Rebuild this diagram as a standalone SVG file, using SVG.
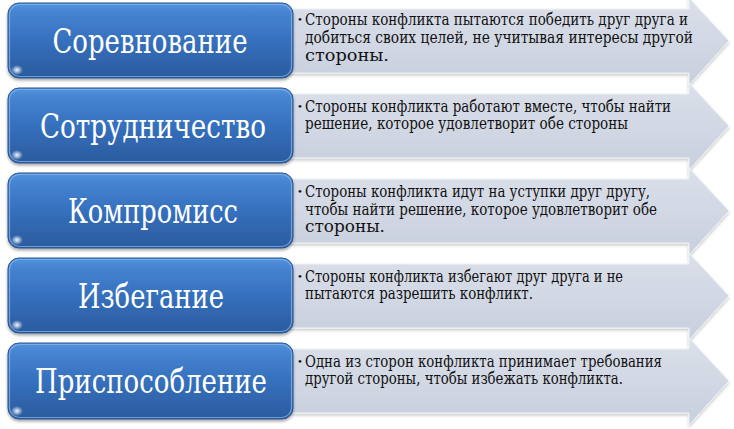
<svg xmlns="http://www.w3.org/2000/svg" width="734" height="429" viewBox="0 0 734 429">
<defs>
<linearGradient id="gBlue" x1="0" y1="0" x2="0" y2="1">
<stop offset="0" stop-color="#5494de"/>
<stop offset="0.12" stop-color="#4684d2"/>
<stop offset="0.5" stop-color="#3570bd"/>
<stop offset="1" stop-color="#2b5b9e"/>
</linearGradient>
<linearGradient id="gGrey" x1="0" y1="0" x2="0" y2="1">
<stop offset="0" stop-color="#dbe0ea"/>
<stop offset="1" stop-color="#c8cfdd"/>
</linearGradient>
<radialGradient id="gGlint" cx="0.5" cy="0.5" r="0.5">
<stop offset="0" stop-color="#ffffff" stop-opacity="0.95"/>
<stop offset="1" stop-color="#ffffff" stop-opacity="0"/>
</radialGradient>
<filter id="sh" x="-5%" y="-10%" width="110%" height="130%">
<feDropShadow dx="0" dy="2" stdDeviation="1.8" flood-color="#000" flood-opacity="0.35"/>
</filter>
<filter id="shA" x="-5%" y="-10%" width="110%" height="130%">
<feDropShadow dx="0" dy="2" stdDeviation="1.5" flood-color="#000" flood-opacity="0.2"/>
</filter>
</defs>
<style>
.arrow{fill:url(#gGrey);stroke:#eef1f6;stroke-width:1;filter:url(#shA)}
.box{fill:url(#gBlue);stroke:#2a568f;stroke-width:1;filter:url(#sh)}
.hl{fill:none;stroke:#8fb8ec;stroke-width:1.2;stroke-opacity:0.7}
.glint{fill:url(#gGlint)}
.title{font-size:34px;fill:#ffffff;text-anchor:middle}
.txt{font-size:16.5px;fill:#111111}
.bul{font-size:10px}
</style>
<rect width="734" height="429" fill="#ffffff"/>

<g id="arrow1" font-family="DejaVu Serif, serif"><path class="arrow" d="M275,9 H689 V-2 L729,41 L689,85 V73 H275 Z"/>
<text class="txt" x="297" y="25"><tspan class="bul" dy="-2">•</tspan><tspan x="305" dy="2" textLength="383" lengthAdjust="spacingAndGlyphs">Стороны конфликта пытаются победить друг друга и</tspan><tspan x="305" y="43" textLength="388" lengthAdjust="spacingAndGlyphs">добиться своих целей, не учитывая интересы другой</tspan><tspan x="305" y="61" textLength="84" lengthAdjust="spacingAndGlyphs">стороны.</tspan></text></g>

<g id="arrow2" font-family="DejaVu Serif, serif"><path class="arrow" d="M275,94 H689 V83 L729,126 L689,170 V158 H275 Z"/>
<text class="txt" x="297" y="112"><tspan class="bul" dy="-2">•</tspan><tspan x="305" dy="2" textLength="366" lengthAdjust="spacingAndGlyphs">Стороны конфликта работают вместе, чтобы найти</tspan><tspan x="305" y="129" textLength="323" lengthAdjust="spacingAndGlyphs">решение, которое удовлетворит обе стороны</tspan></text></g>

<g id="arrow3" font-family="DejaVu Serif, serif"><path class="arrow" d="M275,179 H689 V168 L729,211 L689,255 V243 H275 Z"/>
<text class="txt" x="297" y="197"><tspan class="bul" dy="-2">•</tspan><tspan x="305" dy="2" textLength="345" lengthAdjust="spacingAndGlyphs">Стороны конфликта идут на уступки друг другу,</tspan><tspan x="305" y="215" textLength="352" lengthAdjust="spacingAndGlyphs">чтобы найти решение, которое удовлетворит обе</tspan><tspan x="305" y="232" textLength="80" lengthAdjust="spacingAndGlyphs">стороны.</tspan></text></g>

<g id="arrow4" font-family="DejaVu Serif, serif"><path class="arrow" d="M275,264 H689 V253 L729,296 L689,340 V328 H275 Z"/>
<text class="txt" x="297" y="282"><tspan class="bul" dy="-2">•</tspan><tspan x="305" dy="2" textLength="318" lengthAdjust="spacingAndGlyphs">Стороны конфликта избегают друг друга и не</tspan><tspan x="305" y="299" textLength="228" lengthAdjust="spacingAndGlyphs">пытаются разрешить конфликт.</tspan></text></g>

<g id="arrow5" font-family="DejaVu Serif, serif"><path class="arrow" d="M275,349 H689 V338 L729,381 L689,425 V413 H275 Z"/>
<text class="txt" x="297" y="367"><tspan class="bul" dy="-2">•</tspan><tspan x="305" dy="2" textLength="357" lengthAdjust="spacingAndGlyphs">Одна из сторон конфликта принимает требования</tspan><tspan x="305" y="384" textLength="318" lengthAdjust="spacingAndGlyphs">другой стороны, чтобы избежать конфликта.</tspan></text></g>

<g id="box1" font-family="DejaVu Serif, serif"><rect class="box" x="8" y="3" width="285" height="75" rx="11"/><rect class="hl" x="9.5" y="4.5" width="282" height="72" rx="10"/><ellipse class="glint" cx="17" cy="70" rx="6" ry="5"/><text class="title" x="150" y="53" textLength="195" lengthAdjust="spacingAndGlyphs">Соревнование</text></g>
<g id="box2" font-family="DejaVu Serif, serif"><rect class="box" x="8" y="88" width="285" height="75" rx="11"/><rect class="hl" x="9.5" y="89.5" width="282" height="72" rx="10"/><ellipse class="glint" cx="17" cy="155" rx="6" ry="5"/><text class="title" x="153" y="138" textLength="226" lengthAdjust="spacingAndGlyphs">Сотрудничество</text></g>
<g id="box3" font-family="DejaVu Serif, serif"><rect class="box" x="8" y="173" width="285" height="75" rx="11"/><rect class="hl" x="9.5" y="174.5" width="282" height="72" rx="10"/><ellipse class="glint" cx="17" cy="240" rx="6" ry="5"/><text class="title" x="153" y="223" textLength="170" lengthAdjust="spacingAndGlyphs">Компромисс</text></g>
<g id="box4" font-family="DejaVu Serif, serif"><rect class="box" x="8" y="258" width="285" height="75" rx="11"/><rect class="hl" x="9.5" y="259.5" width="282" height="72" rx="10"/><ellipse class="glint" cx="17" cy="325" rx="6" ry="5"/><text class="title" x="151" y="308" textLength="146" lengthAdjust="spacingAndGlyphs">Избегание</text></g>
<g id="box5" font-family="DejaVu Serif, serif"><rect class="box" x="8" y="343" width="285" height="76" rx="11"/><rect class="hl" x="9.5" y="344.5" width="282" height="73" rx="10"/><ellipse class="glint" cx="17" cy="411" rx="6" ry="5"/><text class="title" x="151" y="393" textLength="232" lengthAdjust="spacingAndGlyphs">Приспособление</text></g>
</svg>
